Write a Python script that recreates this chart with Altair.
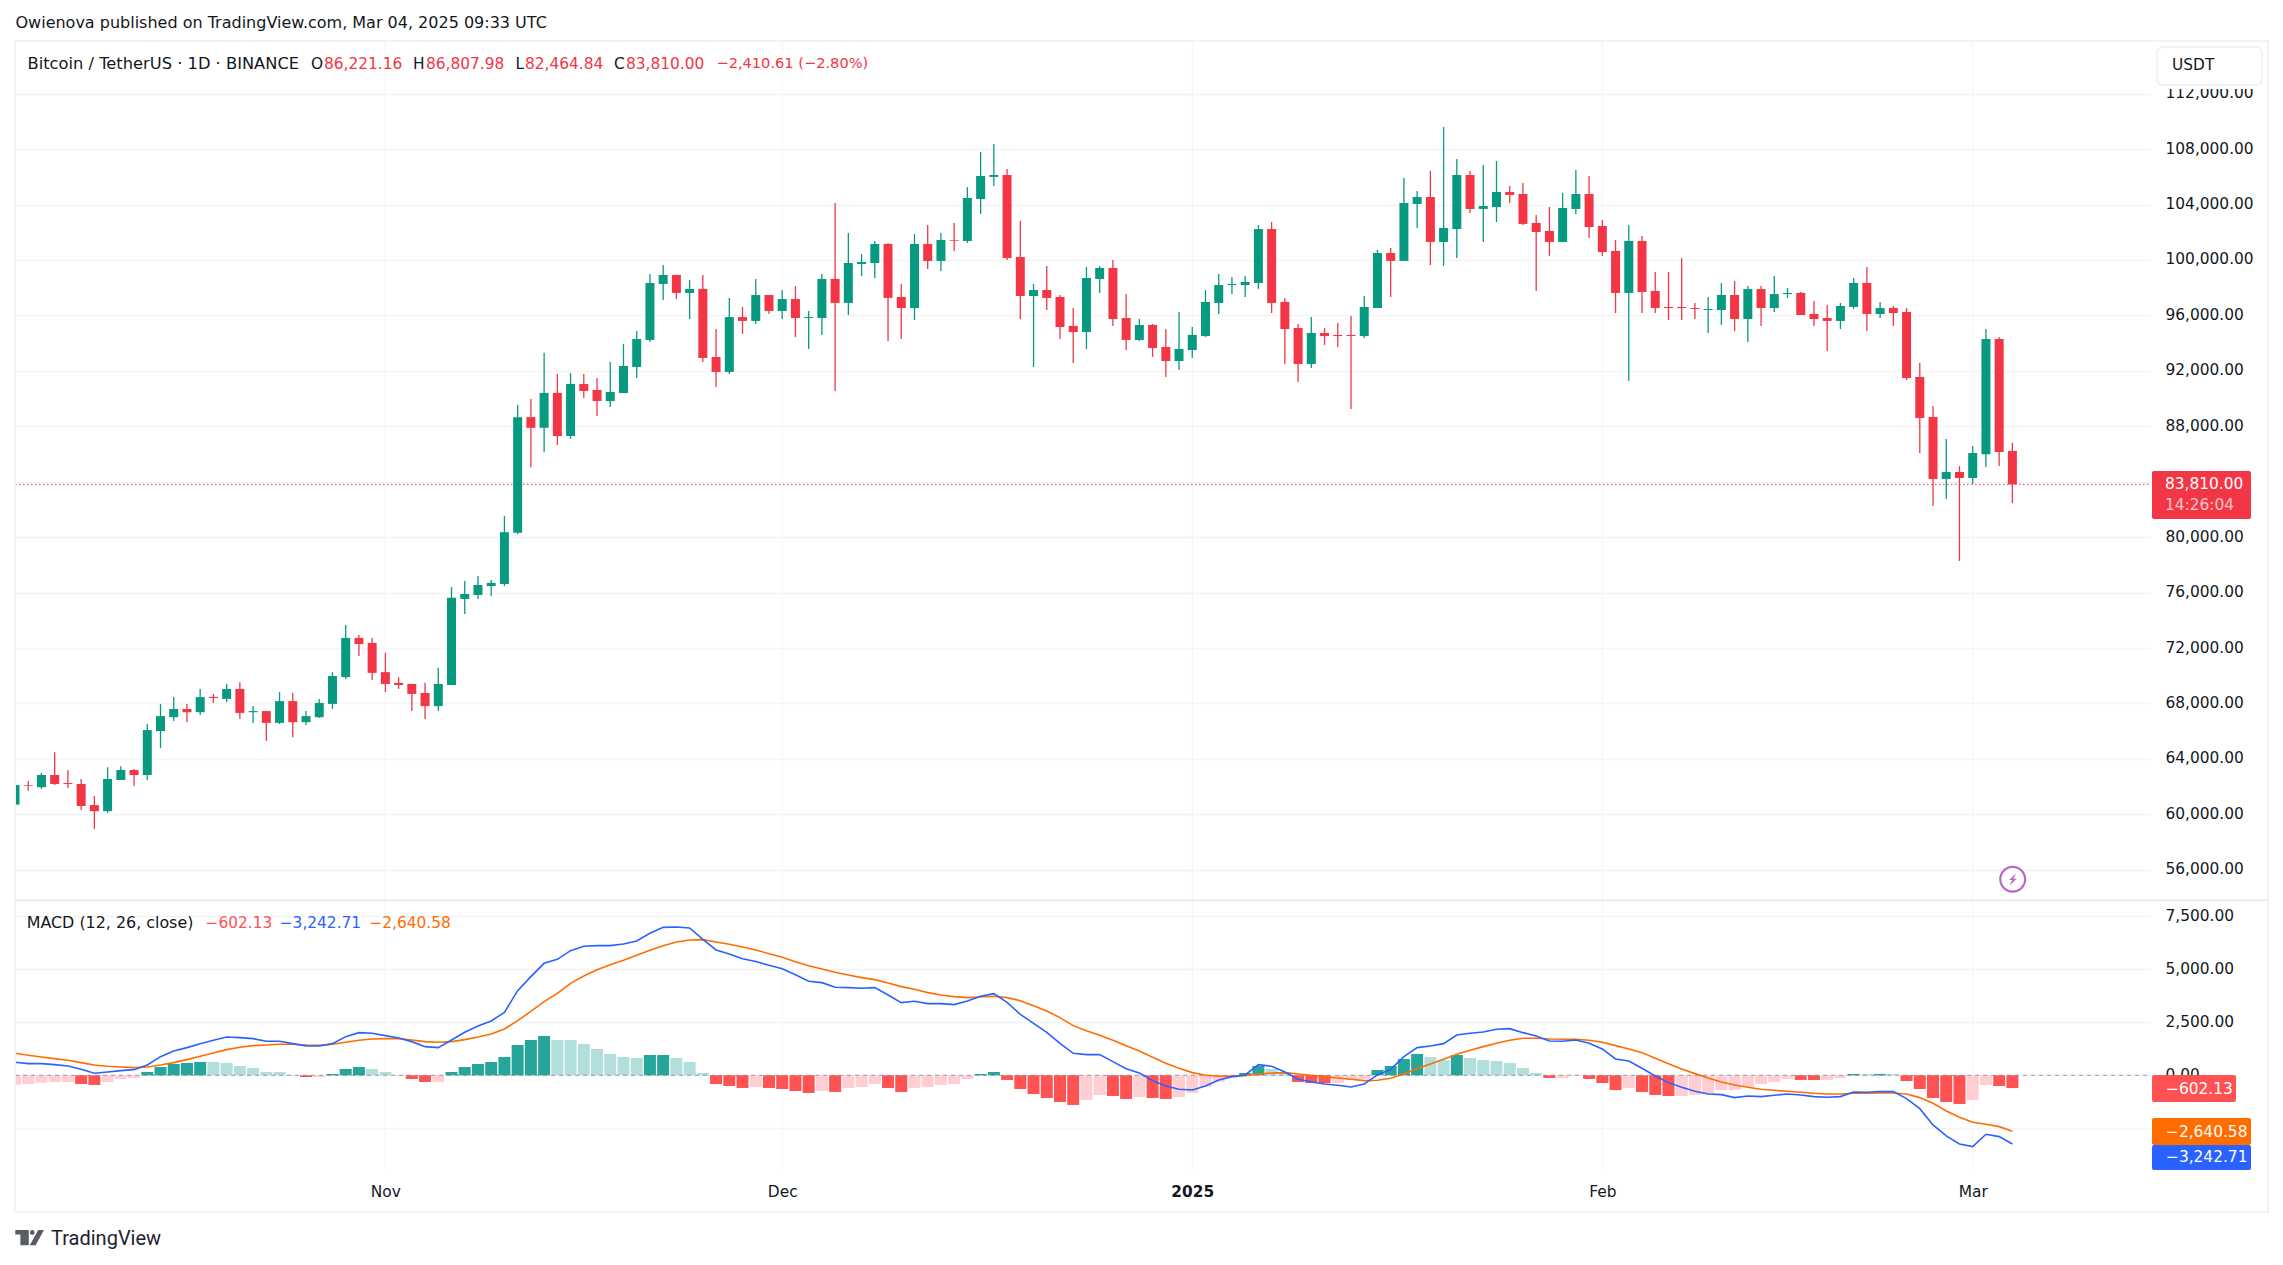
import altair as alt
import pandas as pd

dates = pd.date_range("2024-10-04", periods=152).strftime("%Y-%m-%d").tolist()

opens = [60700,62110,61960,62840,62260,62190,60670,60230,62480,63200,62840,66010,67010,67600,67370,68480,68330,69050,67370,67450,66600,68170,66650,67010,67970,69900,72730,72370,70260,69490,69410,68760,67810,69330,75540,75830,76470,76620,80310,88660,87890,90410,87300,91050,90620,89820,90400,92280,94230,98270,98920,97620,97910,93000,91920,95880,95600,97470,96320,97180,95810,95810,98630,96900,99710,99780,101150,97330,96530,101150,99930,101440,101370,104400,105990,106130,100210,97400,97830,97330,95240,94800,98630,99420,95810,94230,95310,93720,92710,93500,94510,96900,98190,98190,98340,102230,96970,95090,92490,94730,94590,94590,94510,96530,100500,99930,104040,104540,101300,102230,106130,103680,103820,104900,104760,102670,102090,101300,103680,104760,102450,100650,97620,101370,97760,96610,96610,96530,96390,96390,97470,95740,97900,96530,97540,97620,96100,95810,95600,96610,98340,96100,96530,96250,91560,88670,84200,84700,84270,85990,94300,86221.16]
highs = [62450,62400,62990,64490,63200,62550,61320,63400,63480,63280,66520,67970,68460,67970,69050,68690,69410,69540,67810,67450,68820,68760,67450,68330,70260,73660,72940,72730,71650,69900,69410,69490,70570,76390,76830,77190,76910,81520,89540,89970,93300,91780,91840,91770,91480,92640,93940,94870,98990,99640,98920,98550,98920,95020,97260,96610,98630,97470,97830,98120,96320,98990,104110,101950,100430,101370,101220,98270,101870,102520,101950,102670,105260,107790,108370,106560,102810,98270,99560,97470,96530,99490,99570,100000,97540,95740,95380,95020,96250,95160,97830,98990,98770,98840,102520,102740,97260,95380,95890,95090,95450,95960,97400,100720,100860,105910,104980,106420,109590,107290,106420,106850,107140,105340,105550,103240,103820,104830,106490,106060,102880,101440,102520,101730,99130,99130,100140,96900,97330,98340,98480,98120,98120,98840,97980,97690,97040,96750,96900,98700,99490,96970,96680,96530,92570,89460,87080,85130,86580,95020,94440,86807.98]
lows = [60490,61700,61830,62120,61910,60310,58950,60110,62480,62040,62480,64800,66730,66650,67170,68040,68090,66880,66600,65290,66520,65570,66440,66960,67600,69770,71420,69690,68820,69050,67450,66880,67450,69330,74460,75540,75750,76470,80230,85050,86130,86650,87080,90040,88740,89390,90400,91480,94080,97110,97180,95740,92640,90830,91770,94660,95380,96100,95740,94440,93580,94590,90550,96030,98840,98700,94150,94300,95670,99350,99200,100650,101220,103320,105340,100000,95740,92280,96390,94300,92570,93580,97620,95240,93500,94150,93000,91560,92060,92930,94440,96100,97540,97330,97910,96170,92490,91200,92210,93870,93720,89250,94370,96530,97330,99930,102310,99640,99570,100140,103390,101300,102740,104110,102520,97760,100290,101300,103320,101590,100290,96170,91270,96170,96170,95670,95670,95740,94730,95310,94870,94080,95240,96250,97260,96030,95240,93430,95020,96460,94870,95810,95240,91340,86070,82250,82750,78280,83840,85060,85130,82464.84]
closes = [62115,62060,62840,62190,62190,60600,60230,62550,63200,62840,66080,67090,67600,67370,68460,68400,69050,67320,67450,66600,68170,66650,67090,68040,69980,72730,72290,70210,69410,69330,68690,67810,69410,75620,75900,76550,76700,80360,88660,87890,90410,87290,91050,90550,89820,90470,92350,94300,98340,98920,97620,97910,92930,91920,95880,95600,97470,96320,97180,95810,95880,98630,96900,99780,99850,101150,97260,96530,101150,99930,101440,101390,104470,106060,106130,100140,97400,97830,97260,95160,94800,98700,99420,95740,94230,95310,93650,92710,93580,94590,96970,98190,98270,98410,102230,96900,95020,92490,94730,94510,94510,94510,96610,100500,99930,104110,104540,101300,102310,106130,103680,103890,104900,104690,102600,102020,101300,103750,104760,102380,100570,97620,101370,97690,96530,96530,96530,96460,96460,97470,95740,97900,96530,97540,97620,96030,95740,95600,96680,98340,96100,96530,96170,91480,88600,84200,84700,84270,86070,94300,86150,83810.00]

hist = [-440,-409,-346,-314,-314,-409,-456,-314,-173,-126,157,393,534,582,629,629,582,440,346,157,157,16,-79,-79,63,299,393,299,157,16,-173,-314,-314,157,393,534,629,865,1431,1666,1855,1666,1666,1478,1242,1006,865,817,959,959,817,629,110,-409,-503,-597,-550,-597,-645,-739,-833,-739,-786,-597,-550,-409,-597,-786,-597,-550,-456,-409,-173,63,157,-220,-645,-880,-1069,-1258,-1399,-1163,-927,-975,-1116,-1022,-1069,-1116,-1022,-833,-550,-314,-126,110,440,299,157,-314,-362,-362,-362,-220,-173,252,440,770,1006,865,723,959,817,723,676,582,346,110,-126,-126,-16,-173,-362,-692,-597,-786,-927,-975,-975,-927,-880,-692,-692,-550,-409,-314,-173,-220,-220,-220,-126,63,63,63,63,-267,-645,-1069,-1258,-1352,-1163,-456,-503,-602.13]
shade = "LLLLLDDLLLDDDDDLLLLLLLDLDDDLLLDDLDDDDDDDDLLLLLLLDDLLLDDDLDDDDLDLLLDDLLLLLDDDDDDDDLLDDLDDLLLLLDDLLDDDLLLDDDDLLDLLLLLLDLLDDDLDDDLLLLLLLLLDDLLDLDLDDDDDLLDD"
macd = [613,550,550,503,440,283,94,157,220,267,487,880,1148,1305,1493,1651,1808,1776,1729,1603,1603,1493,1383,1383,1493,1824,2012,1981,1871,1761,1588,1352,1305,1666,2028,2327,2562,2971,3993,4653,5282,5471,5879,6084,6115,6115,6194,6335,6697,6980,6995,6948,6414,5911,5722,5502,5368,5188,5030,4747,4433,4370,4150,4134,4103,4134,3789,3427,3490,3380,3380,3333,3506,3726,3851,3443,2877,2452,2028,1509,1038,975,975,645,314,110,-252,-503,-660,-692,-503,-220,-63,16,503,424,157,-189,-314,-409,-472,-550,-409,16,283,880,1305,1383,1493,1902,1981,2044,2169,2201,2012,1855,1619,1603,1666,1509,1242,770,676,330,-31,-346,-566,-755,-880,-912,-1053,-975,-1006,-943,-880,-927,-1006,-1038,-1006,-786,-802,-770,-770,-1100,-1572,-2342,-2861,-3238,-3364,-2782,-2892,-3242.71]
signal = [1038,943,865,786,707,597,487,424,393,362,393,487,597,739,896,1053,1210,1320,1399,1431,1462,1462,1431,1415,1462,1556,1651,1713,1729,1729,1666,1588,1556,1588,1682,1808,1949,2185,2578,3018,3474,3867,4339,4685,4983,5219,5423,5659,5895,6115,6288,6382,6398,6288,6178,6052,5911,5738,5565,5361,5172,5015,4857,4732,4606,4512,4354,4182,4056,3899,3789,3710,3663,3694,3726,3663,3521,3285,3034,2720,2342,2106,1886,1651,1399,1148,849,566,330,126,0,-47,-47,-16,63,110,126,63,0,-63,-126,-189,-252,-236,-141,63,314,534,755,990,1179,1352,1509,1651,1745,1745,1713,1698,1698,1651,1556,1399,1242,1069,802,550,299,79,-126,-314,-456,-566,-660,-707,-755,-802,-849,-880,-880,-849,-849,-833,-833,-880,-1053,-1320,-1682,-1981,-2217,-2311,-2421,-2640.58]

price_ticks = [112000,108000,104000,100000,96000,92000,88000,84000,80000,76000,72000,68000,64000,60000,56000]
macd_ticks = [7500,5000,2500,0,-2500]
month_lines = ["2024-11-01","2024-12-01","2025-01-01","2025-02-01","2025-03-01"]
last_price = [83810.00]

FONT = "DejaVu Sans"
TXT = 15.4
DARK = "#131722"
GREEN = "#089981"
RED = "#f23645"
GRID = "#f3f4f6"
BORDER = "#f0f3fa"
VIEW_W, VIEW_H = 2136, 1245


def cx(px):
    return px - 15


def cy(py):
    return py - 8


candles = pd.DataFrame({"date": dates, "o": opens, "h": highs, "l": lows, "c": closes})
candles["dir"] = ["up" if c >= o else "down" for o, c in zip(opens, closes)]
ind = pd.DataFrame({"date": dates, "hist": hist, "macd": macd, "signal": signal})
ind["tone"] = [("pos" if v >= 0 else "neg") + s for v, s in zip(hist, shade)]

xscale = alt.Scale(
    type="utc",
    padding=0,
    domain=[
        alt.DateTime(year=2024, month=10, date=4, utc=True),
        alt.DateTime(year=2025, month=3, date=14, hours=11, minutes=30, utc=True),
    ],
)
pscale = alt.Scale(domain=[53821, 115798], range=[cy(900), cy(41)], nice=False, zero=False)
mscale = alt.Scale(domain=[-4467, 8269], range=[cy(1170), cy(900)], nice=False, zero=False)
x_axis_cfg = alt.Axis(
    orient="bottom",
    offset=cy(1170) - VIEW_H,
    grid=False,
    domain=False,
    ticks=False,
    labelPadding=14,
    labelFont=FONT,
    labelFontSize=TXT,
    labelColor=DARK,
    labelAlign="center",
    labelOverlap=False,
    labelFlush=False,
    labelBound=False,
    values=[
        alt.DateTime(year=2024, month=11, date=1, utc=True),
        alt.DateTime(year=2024, month=12, date=1, utc=True),
        alt.DateTime(year=2025, month=1, date=1, utc=True),
        alt.DateTime(year=2025, month=2, date=1, utc=True),
        alt.DateTime(year=2025, month=3, date=1, utc=True),
    ],
    labelExpr="utcmonth(datum.value)==0 ? '2025' : utcFormat(datum.value,'%b')",
    labelFontWeight={
        "condition": {"test": "utcmonth(datum.value)==0", "value": "bold"},
        "value": "normal",
    },
)
X = alt.X("date:T", scale=xscale, axis=x_axis_cfg, title=None)
dir_color = alt.Color("dir:N", scale=alt.Scale(domain=["up", "down"], range=[GREEN, RED]), legend=None)


def label(s, px, py, color=DARK, size=TXT, font=FONT, opacity=None):
    kw = dict(align="left", baseline="middle", font=font, fontSize=size, color=color)
    if opacity is not None:
        kw["opacity"] = opacity
    return alt.Chart(pd.DataFrame({"t": [s]})).mark_text(**kw).encode(
        text="t:N", x=alt.value(cx(px)), y=alt.value(cy(py))
    )


def box(x0, x1, y0, y1, **mark):
    return alt.Chart(pd.DataFrame({"k": [0]})).mark_rect(**mark).encode(
        x=alt.value(cx(x0)), x2=alt.value(cx(x1)), y=alt.value(cy(y0)), y2=alt.value(cy(y1))
    )


def symbol(shape, px, py, size, **mark):
    return alt.Chart(pd.DataFrame({"k": [0]})).mark_point(shape=shape, size=size, **mark).encode(
        x=alt.value(cx(px)), y=alt.value(cy(py))
    )


axis_style = dict(
    orient="right", title=None, domain=False, ticks=False, labelPadding=14, labelFont=FONT,
    labelFontSize=TXT, labelColor=DARK, format=",.2f", grid=True, gridColor=GRID, gridWidth=1.5,
    labelOverlap=False, labelBound=False, labelFlush=False, labelOffset=-1,
)

# axes
price_axis = alt.Chart(pd.DataFrame({"v": price_ticks})).mark_point(opacity=0).encode(
    y=alt.Y("v:Q", scale=pscale, axis=alt.Axis(values=price_ticks, **axis_style)),
)
macd_axis = alt.Chart(pd.DataFrame({"v": macd_ticks})).mark_point(opacity=0).encode(
    y=alt.Y("v:Q", scale=mscale, axis=alt.Axis(values=macd_ticks, **axis_style)),
)
month_grid = alt.Chart(pd.DataFrame({"date": month_lines})).mark_rule(color="#f3f4f6", strokeWidth=1).encode(
    x=X,
    y=alt.value(cy(41)),
    y2=alt.value(cy(1170)),
)

# data marks
price_line = alt.Chart(pd.DataFrame({"v": last_price})).mark_rule(
    color=RED, strokeWidth=1, strokeDash=[1.5, 2.5]
).encode(y=alt.Y("v:Q", scale=pscale, axis=None), x=alt.value(0), x2=alt.value(VIEW_W))
wicks = alt.Chart(candles).mark_rule(strokeWidth=1.3, clip=True).encode(
    x=X, y=alt.Y("l:Q", scale=pscale, axis=None), y2="h:Q", color=dir_color
)
bodies = alt.Chart(candles).mark_bar(size=9, clip=True).encode(
    x=X, y=alt.Y("o:Q", scale=pscale, axis=None), y2="c:Q", color=dir_color
)
hist_bars = alt.Chart(ind).mark_bar(size=12, clip=True).encode(
    x=X,
    y=alt.Y("hist:Q", scale=mscale, axis=None),
    y2=alt.datum(0),
    color=alt.Color(
        "tone:N",
        scale=alt.Scale(
            domain=["posD", "posL", "negD", "negL"],
            range=["#26a69a", "#b2dfdb", "#ff5252", "#ffcdd2"],
        ),
        legend=None,
    ),
)
zero_line = alt.Chart(pd.DataFrame({"v": [0]})).mark_rule(
    color="#787b86", strokeWidth=1, strokeDash=[4, 4], opacity=0.7
).encode(y=alt.Y("v:Q", scale=mscale, axis=None), x=alt.value(0), x2=alt.value(VIEW_W))
signal_line = alt.Chart(ind).mark_line(color="#ff6d00", strokeWidth=1.6, clip=True).encode(
    x=X, y=alt.Y("signal:Q", scale=mscale, axis=None)
)
macd_line = alt.Chart(ind).mark_line(color="#2962ff", strokeWidth=1.6, clip=True).encode(
    x=X, y=alt.Y("macd:Q", scale=mscale, axis=None)
)

# furniture
frame = box(15, 2268, 41, 1212, fillOpacity=0, stroke=BORDER, strokeWidth=2)
separator = box(15, 2268, 899.5, 901, fill="#e6e8ee")

usdt_cover = box(2157, 2262, 80, 89, fill="#ffffff")
usdt_box = box(2157, 2262, 47, 85, fill="#ffffff", stroke="#eceef2", strokeWidth=1.5, cornerRadius=6)
tag_main = box(2152, 2251, 471, 519, fill=RED, cornerRadius=2)
tag_hist = box(2152, 2236, 1075, 1102, fill="#ff5252", cornerRadius=2)
tag_signal = box(2152, 2251, 1118, 1145, fill="#ff6d00", cornerRadius=2)
tag_macd = box(2152, 2251, 1145, 1170, fill="#2962ff", cornerRadius=2)

logo_path = (
    "M-0.98,-0.51 L-0.05,-0.51 L-0.05,0.53 L-0.63,0.53 L-0.63,-0.21 L-0.98,-0.21 Z "
    "M0.6,-0.51 L1,-0.51 L0.42,0.53 L0.02,0.53 Z "
    "M0.03,-0.35 A0.16,0.16 0 1 1 0.35,-0.35 A0.16,0.16 0 1 1 0.03,-0.35 Z"
)
bolt_path = "M0.5,-0.9 L-0.55,0.1 L-0.05,0.1 L-0.5,0.95 L0.6,-0.1 L0.1,-0.1 Z"

extras = [
    frame,
    separator,
    usdt_cover,
    usdt_box,
    tag_main,
    tag_hist,
    tag_signal,
    tag_macd,
    symbol("circle", 2012.7, 879.3, 615, filled=False, color="#9c27b0", strokeWidth=2.2),
    symbol(bolt_path, 2012.7, 879.3, 178, filled=True, color="#9c27b0", strokeWidth=0),
    symbol(logo_path, 29.5, 1237.5, 841, filled=True, color="#131722", strokeWidth=0),
    label("TradingView", 51, 1239, size=20, font="Roboto", color="#1e222d"),
    label("Owienova published on TradingView.com, Mar 04, 2025 09:33 UTC", 15.5, 23, size=16),
    label("Bitcoin / TetherUS · 1D · BINANCE", 27.5, 64, size=16.3),
    label("O", 311, 64),
    label("86,221.16", 324, 64, color=RED),
    label("H", 413, 64),
    label("86,807.98", 426, 64, color=RED),
    label("L", 515.5, 64),
    label("82,464.84", 525, 64, color=RED),
    label("C", 614, 64),
    label("83,810.00", 626, 64, color=RED),
    label("−2,410.61 (−2.80%)", 716.4, 64, color=RED, size=14.6),
    label("MACD (12, 26, close)", 26.7, 922.7, size=15.9),
    label("−602.13", 205.5, 922.7, color="#ff5252"),
    label("−3,242.71", 279.7, 922.7, color="#2962ff"),
    label("−2,640.58", 369.4, 922.7, color="#ff6d00"),
    label("USDT", 2172, 65.3),
    label("83,810.00", 2165, 484, color="#ffffff"),
    label("14:26:04", 2165, 505, color="#ffffff", opacity=0.7),
    label("−602.13", 2166, 1089, color="#ffffff"),
    label("−2,640.58", 2166, 1132, color="#ffffff"),
    label("−3,242.71", 2166, 1157, color="#ffffff"),
]

chart = (
    alt.layer(
        month_grid,
        price_axis,
        macd_axis,
        price_line,
        wicks,
        bodies,
        hist_bars,
        zero_line,
        signal_line,
        macd_line,
        *extras,
    )
    .resolve_scale(y="independent", color="independent")
    .properties(
        width=VIEW_W,
        height=VIEW_H,
        background="#ffffff",
        padding={"left": 7, "top": 0, "right": 124, "bottom": 0},
        autosize=alt.AutoSizeParams(type="none"),
    )
    .configure_view(stroke=None)
)

chart.save("out.html", embed_options={"renderer": "svg", "actions": False})
